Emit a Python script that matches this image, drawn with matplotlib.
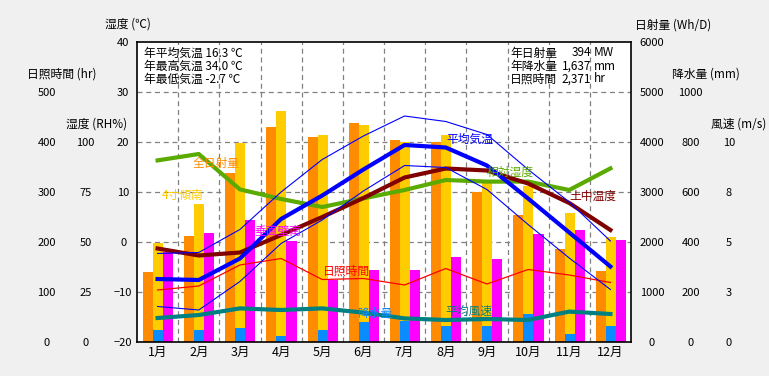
import matplotlib
matplotlib.use("Agg")
import matplotlib.pyplot as plt
import numpy as np

plt.rcParams['font.family'] = ['Noto Sans CJK JP', 'DejaVu Sans']

months = ["1月", "2月", "3月", "4月", "5月", "6月", "7月", "8月", "9月", "10月", "11月", "12月"]

# 日射量 (Wh/D)
solar_all = [1400, 2130, 3390, 4310, 4110, 4390, 4040, 4000, 3010, 2540, 1860, 1420]
solar_tilt = [1980, 2760, 3990, 4620, 4150, 4350, 4010, 4150, 3240, 3120, 2590, 2110]
solar_wall = [1800, 2180, 2440, 2020, 1250, 1440, 1440, 1710, 1660, 2160, 2240, 2040]
# 降水量 (mm)
precip = [48, 48, 57, 24, 48, 81, 84, 64, 64, 112, 32, 64]
# 温度 (℃)
temp_avg = [-7.4, -7.6, -3.3, 4.6, 9.3, 14.5, 19.4, 18.9, 15.3, 8.7, 1.9, -4.9]
temp_max = [-2.3, -2.1, 2.5, 10.0, 16.5, 21.2, 25.2, 24.1, 21.5, 14.5, 8.0, 0.2]
temp_min = [-12.9, -13.6, -7.9, -0.3, 4.4, 10.2, 15.3, 14.9, 10.5, 3.5, -3.2, -9.5]
soil_temp = [-1.3, -2.7, -2.1, 1.4, 5.0, 8.8, 12.9, 14.7, 14.3, 11.7, 7.8, 2.4]
# 相対湿度 (RH%)
humidity = [90.8, 94.0, 76.3, 71.5, 67.5, 71.8, 76.0, 81.0, 80.2, 80.2, 76.0, 86.8]
# 日照時間 (hr)
sunshine = [104, 112, 154, 167, 125, 127, 114, 147, 116, 145, 134, 119]
# 風速 (m/s)
wind = [1.2, 1.35, 1.68, 1.6, 1.68, 1.47, 1.18, 1.1, 1.15, 1.1, 1.52, 1.4]

W, H = 769, 376
FS = 8.5
fig = plt.figure(figsize=(W / 100, H / 100), dpi=100)
fig.patch.set_facecolor("#F0F0F0")

L, R, T, B = 137, 631, 42, 342
ax = fig.add_axes([L / W, 1 - B / H, (R - L) / W, (B - T) / H])
ax.set_facecolor("white")
ax.set_xlim(0, 12)
ax.set_ylim(-20, 40)

x = np.arange(12)
xc = x + 0.5
bw = 0.243

# grid
ax.set_yticks(range(-20, 41, 10))
ax.set_xticks(xc)
ax.set_xticklabels(months, fontsize=9)
ax.tick_params(axis="x", length=0, pad=3)
ax.tick_params(axis="y", length=0, pad=10, labelsize=8)
plt.setp(ax.get_yticklabels(), ha="center")
for v in range(-10, 40, 10):
    ax.axhline(v, color="#808080", linestyle=(0, (4, 3)), linewidth=0.9, zorder=0)
for v in range(1, 12):
    ax.axvline(v, color="#808080", linestyle=(0, (4, 3)), linewidth=0.9, zorder=0)
for s in ax.spines.values():
    s.set_visible(False)


def twin(ylim, ticks, labels, side, pad):
    a = ax.twinx()
    a.set_ylim(*ylim)
    for s in a.spines.values():
        s.set_visible(False)
    if ticks is None:
        a.yaxis.set_visible(False)
        return a
    if side == "left":
        a.yaxis.set_ticks_position("left")
    a.set_yticks(ticks)
    a.set_yticklabels(labels)
    a.tick_params(axis="y", length=0, pad=pad, labelsize=8)
    plt.setp(a.get_yticklabels(), ha="center")
    return a


ax_sol = twin((0, 6000), range(0, 6001, 1000), [str(v) for v in range(0, 6001, 1000)], "right", 15)
ax_pre = twin((0, 1200), range(0, 1001, 200), [str(v) for v in range(0, 1001, 200)], "right", 43)
ax_wind = twin((0, 15), [0, 2.5, 5, 7.5, 10], ["0", "3", "5", "8", "10"], "right", 70.5)
ax_hr = twin((0, 600), range(0, 501, 100), [str(v) for v in range(0, 501, 100)], "left", 65)
ax_rh = twin((0, 150), range(0, 101, 25), [str(v) for v in range(0, 101, 25)], "left", 37)
ax_t = twin((-20, 40), None, None, None, 0)
for s in ax_t.spines.values():
    s.set_visible(True)
    s.set_color("black")
    s.set_linewidth(1.2)

# bars
ax_sol.bar(x + 0.267, solar_all, width=bw, color="#FF8C00", zorder=2)
ax_sol.bar(x + 0.51, solar_tilt, width=bw, color="#FFCC00", zorder=2)
ax_sol.bar(x + 0.753, solar_wall, width=bw, color="#FF00FF", zorder=2)
ax_pre.bar(x + 0.51, precip, width=bw, color="#0A8CFF", zorder=2)

# lines
ax_rh.plot(xc, humidity, color="#5AAA00", linewidth=3)
ax_hr.plot(xc, sunshine, color="#FF0000", linewidth=0.9)
ax_wind.plot(xc, wind, color="#008080", linewidth=3)
ax_t.plot(xc, soil_temp, color="#800000", linewidth=3)
ax_t.plot(xc, temp_max, color="#0000FF", linewidth=0.8)
ax_t.plot(xc, temp_min, color="#0000FF", linewidth=0.8)
ax_t.plot(xc, temp_avg, color="#0000FF", linewidth=3)


def ptext(px, py, s, **kw):
    fig.text(px / W, 1 - py / H, s, fontsize=FS, va="center", **kw)


# series labels
ptext(216, 164, "全日射量", color="#FF8C00", ha="center")
ptext(183, 195, "4寸傾南", color="#FFCC00", ha="center")
ptext(278, 232, "垂直壁南", color="#FF00FF", ha="center")
ptext(470, 139, "平均気温", color="#0000FF", ha="center")
ptext(510, 172, "相対湿度", color="#5AAA00", ha="center")
ptext(593, 196, "土中温度", color="#800000", ha="center")
ptext(346, 271, "日照時間", color="#FF0000", ha="center")
ptext(375, 313, "降水量", color="#0A8CFF", ha="center")
ptext(469, 311, "平均風速", color="#008080", ha="center")

# annual summaries
for i, s in enumerate(["年平均気温 16.3 ℃", "年最高気温 34.0 ℃", "年最低気温 -2.7 ℃"]):
    ptext(144, 53 + 13 * i, s, ha="left")
for i, (lab, num, unit) in enumerate([("年日射量", "394", "MW"),
                                     ("年降水量", "1,637", "mm"),
                                     ("日照時間", "2,371", "hr")]):
    ptext(510, 53 + 13 * i, lab, ha="left")
    ptext(591, 53 + 13 * i, num, ha="right")
    ptext(594, 53 + 13 * i, unit, ha="left")

# axis titles
ptext(128, 24, "湿度 (℃)", ha="center")
ptext(62, 74, "日照時間 (hr)", ha="center")
ptext(97, 124, "湿度 (RH%)", ha="center")
ptext(673, 25, "日射量 (Wh/D)", ha="center")
ptext(706, 74, "降水量 (mm)", ha="center")
ptext(739, 124, "風速 (m/s)", ha="center")

fig.savefig("out.png", dpi=100, facecolor=fig.get_facecolor())
